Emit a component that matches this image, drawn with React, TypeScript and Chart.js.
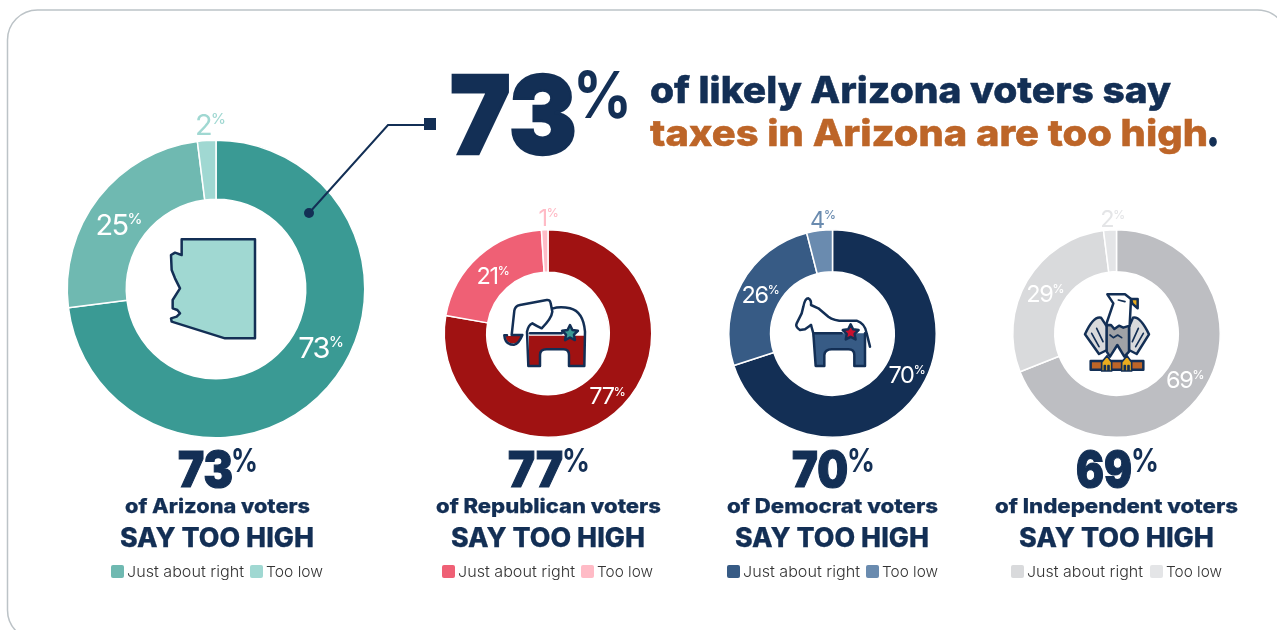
import React, { useEffect, useRef } from "react";
import { Chart, registerables } from "chart.js";

Chart.register(...registerables);

// ---------- data ----------
const categories = ["Too high", "Just about right", "Too low"];
const legendLabels = ["Just about right", "Too low"];
const groups = ["Arizona", "Republican", "Democrat", "Independent"];
const arizonaValues = [73, 25, 2];
const republicanValues = [77, 21, 1];
const democratValues = [70, 26, 4];
const independentValues = [69, 29, 2];
const arizonaColors = ["#3A9A94", "#6FB9B1", "#A0D8D2"];
const republicanColors = ["#A01212", "#EF6075", "#FFBBC6"];
const democratColors = ["#132F55", "#375B85", "#6A8BAF"];
const independentColors = ["#BDBEC2", "#D9DADC", "#E4E5E7"];

const NAVY = "#132F55";
const ORANGE = "#BD6528";
const FONT = "Inter, 'Noto Sans', sans-serif";

// ---------- layout ----------
type Panel = {
  values: number[]; colors: string[]; cx: number; cy: number; r: number; inner: number;
  digit: number; pct: number; labelPos: number[][]; labelColors: string[];
  big: number[]; bigPct: number[]; voters: number[]; say: number[]; legend: number[];
  name: string;
};
const panels: Panel[] = [
  { name: groups[0], values: arizonaValues, colors: arizonaColors, cx: 216, cy: 289, r: 148, inner: 90.5, digit: 29, pct: 15,
    labelPos: [[105, 58], [-97, -65], [-5.5, -165]], labelColors: ["#fff", "#fff", arizonaColors[2]],
    big: [178, 55], bigPct: [231, 27], voters: [125, 185], say: [120, 194], legend: [111, 127, 117, 250, 266, 57] },
  { name: groups[1], values: republicanValues, colors: republicanColors, cx: 548, cy: 333.5, r: 103, inner: 62, digit: 23.5, pct: 12,
    labelPos: [[59.5, 62], [-55, -58.5], [0.5, -116.5]], labelColors: ["#fff", "#fff", republicanColors[2]],
    big: [508, 55], bigPct: [562, 28], voters: [436, 225], say: [451, 194], legend: [442, 458, 117, 581, 597, 56] },
  { name: groups[2], values: democratValues, colors: democratColors, cx: 832.5, cy: 333.5, r: 103, inner: 62.5, digit: 23.5, pct: 12,
    labelPos: [[74.5, 40.5], [-72, -39.5], [-9.5, -114.5]], labelColors: ["#fff", "#fff", democratColors[2]],
    big: [792, 56], bigPct: [847, 28], voters: [727, 211], say: [735, 194], legend: [727, 743, 117, 866, 882, 56] },
  { name: groups[3], values: independentValues, colors: independentColors, cx: 1116.5, cy: 333.5, r: 103, inner: 62.5, digit: 23.5, pct: 12,
    labelPos: [[68.8, 45.5], [-71.2, -40.5], [-3.7, -115]], labelColors: ["#fff", "#fff", independentColors[2]],
    big: [1076, 56], bigPct: [1131, 28], voters: [995, 243], say: [1019, 195], legend: [1011, 1027, 116, 1150, 1166, 56] },
];

const pctLabels = {
  id: "pctLabels",
  afterDatasetsDraw(chart: any, _a: any, opts: any) {
    const { ctx } = chart;
    const first = chart.getDatasetMeta(0).data[0];
    const values = chart.data.datasets[0].data as number[];
    const track = `-${(opts.digit * 0.055).toFixed(2)}px`;
    ctx.save();
    ctx.textBaseline = "alphabetic";
    ctx.textAlign = "left";
    values.forEach((v, i) => {
      const [dx, dy] = opts.pos[i];
      const d = String(v);
      ctx.fillStyle = opts.colors[i];
      (ctx as any).letterSpacing = track;
      ctx.font = `400 ${opts.digit}px ${FONT}`;
      const w1 = ctx.measureText(d).width;
      (ctx as any).letterSpacing = "0px";
      ctx.font = `500 ${opts.pct}px ${FONT}`;
      const w2 = ctx.measureText("%").width;
      const x = first.x + dx - (w1 + w2) / 2;
      const capH = opts.digit * 0.727;
      const base = first.y + dy + capH / 2;
      (ctx as any).letterSpacing = track;
      ctx.font = `400 ${opts.digit}px ${FONT}`;
      ctx.fillText(d, x, base);
      (ctx as any).letterSpacing = "0px";
      ctx.font = `500 ${opts.pct}px ${FONT}`;
      ctx.fillText("%", x + w1, base - capH + opts.pct * 0.727);
    });
    ctx.restore();
  },
};

function Donut({ p }: { p: Panel }) {
  const ref = useRef<HTMLCanvasElement>(null);
  const half = p.r + 42;
  const left = Math.floor(p.cx - half);
  const top = Math.floor(p.cy - half);
  const w = Math.round((p.cx - left) * 2);
  const h = Math.round((p.cy - top) * 2);
  useEffect(() => {
    const chart = new Chart(ref.current!, {
      type: "doughnut",
      data: {
        labels: categories,
        datasets: [{ data: p.values, backgroundColor: p.colors, borderColor: "#fff", borderWidth: 1.5, hoverOffset: 0 }],
      },
      options: {
        animation: false,
        responsive: false,
        radius: p.r + 0.75,
        cutout: `${((p.inner - 0.75) / (p.r + 0.75)) * 100}%`,
        plugins: {
          legend: { display: false },
          tooltip: { enabled: false },
          pctLabels: { pos: p.labelPos, colors: p.labelColors, digit: p.digit, pct: p.pct },
        },
      } as any,
      plugins: [pctLabels as any],
    });
    return () => chart.destroy();
  }, []);
  return <canvas ref={ref} width={w} height={h} style={{ position: "absolute", left, top, width: w, height: h, display: "block" }} />;
}

function T({ x, y, len, size, weight, fill, bold = 0, children }: any) {
  return (
    <text
      x={x}
      y={y}
      textLength={len}
      lengthAdjust="spacingAndGlyphs"
      fontSize={size}
      fontWeight={weight}
      fill={fill}
      fontFamily={FONT}
      stroke={bold ? fill : "none"}
      strokeWidth={bold}
      strokeLinejoin="miter"
    >
      {children}
    </text>
  );
}

function star(cx: number, cy: number, R: number) {
  const pts: string[] = [];
  for (let i = 0; i < 10; i++) {
    const r = i % 2 ? R * 0.5 : R;
    const a = -Math.PI / 2 + (i * Math.PI) / 5;
    pts.push(`${cx + r * Math.cos(a)},${cy + r * Math.sin(a)}`);
  }
  return pts.join(" ");
}

const icon = { stroke: NAVY, strokeWidth: 7.5, strokeLinejoin: "round" as const, strokeLinecap: "round" as const };

function ArizonaIcon() {
  return (
    <g transform="translate(60,100) scale(0.33333)">
      <path
        {...icon}
        fill="#A0D8D2"
        d="M365 418 L585 418 L585 715 L495 715 L335 665 L333 655 L350 650 L360 640 L352 630 L338 625 L338 600 L360 565 L345 535 L335 510 L333 465 L345 458 L365 465 Z"
      />
    </g>
  );
}

function ElephantIcon() {
  return (
    <g transform="translate(495,290) scale(0.33333)">
      <path fill="#A01212" d="M32 138 L82 138 L68 156 Q48 168 34 150 Z" />
      <path fill="#A01212" d="M102 137 L268 137 L268 228 L222 228 L222 195 Q222 178 205 178 L155 178 Q135 178 135 195 L135 228 L102 228 Z" />
      <path {...icon} fill="none" d="M28 136 L36 136 M28 136 Q30 165 58 164 Q72 160 82 135 L50 135 L58 62 Q60 48 75 45 L155 30 Q165 28 167 40 L172 65 Q170 85 140 115 Q125 108 112 100 Q100 105 96 125 L100 228 L135 228 L135 195 Q135 178 155 178 L205 178 Q222 178 222 195 L222 228 L268 228 L270 125 Q265 65 225 55 Q195 48 172 56" />
      <path {...icon} fill="none" d="M105 130 L200 130" />
      <polygon {...icon} fill="#3A9A94" points={star(225, 130, 25)} />
    </g>
  );
}

function DonkeyIcon() {
  return (
    <g transform="translate(785,290) scale(0.33333)">
      <path fill="#375B85" d="M82 130 L240 130 L240 228 L208 228 L208 195 Q208 178 190 178 L140 178 Q120 178 118 195 L118 228 L92 228 L85 150 Z" />
      <path {...icon} fill="none" d="M78 105 L60 118 L45 120 Q30 110 35 100 L50 70 L55 50 Q60 25 70 25 Q80 30 78 45 L100 55 L130 80 Q150 95 190 92 L215 92 Q240 100 245 130 L255 170" />
      <path {...icon} fill="none" d="M78 105 L85 130 L92 228 L118 228 L118 195 Q120 178 140 178 L190 178 Q208 178 208 195 L208 228 L240 228 L240 130 M85 130 L170 130" />
      <polygon {...icon} fill="#C8102E" points={star(197, 128, 25)} />
    </g>
  );
}

function EagleIcon() {
  return (
    <g transform="translate(1075,285) scale(0.33333)">
      <path {...icon} fill="#D9DADC" d="M30 148 Q55 92 78 98 L96 125 L96 195 L72 207 Z" />
      <path {...icon} fill="#D9DADC" d="M222 148 Q195 92 174 98 L162 125 L162 195 L185 207 Z" />
      <path {...icon} fill="none" strokeWidth={5} d="M50 145 L72 185 M65 130 L84 170 M205 145 L182 185 M190 130 L172 170" />
      <path {...icon} fill="#A0A2A6" d="M95 120 L162 120 L162 200 L148 215 L127 180 L105 215 L95 200 Z" />
      <path {...icon} fill="#fff" d="M97 28 L150 28 L168 42 L164 122 L145 128 L132 122 L118 132 L108 120 L93 120 L115 55 Z" />
      <path {...icon} fill="none" strokeWidth={5} d="M105 150 L115 158 L128 150 L140 158 M130 45 L150 50" />
      <path {...icon} fill="#EAAC1E" d="M168 42 L188 42 L188 70 L172 56 Z" />
      <rect {...icon} x={47} y={228} width={158} height={26} fill={ORANGE} />
      <path {...icon} strokeWidth={5} fill="#EAAC1E" d="M96 212 L110 232 L110 258 L102 258 L102 242 L99 242 L99 258 L91 258 L91 242 L88 242 L88 258 L80 258 L80 232 Z" />
      <path {...icon} strokeWidth={5} fill="#EAAC1E" d="M156 212 L170 232 L170 258 L162 258 L162 242 L159 242 L159 258 L151 258 L151 242 L148 242 L148 258 L140 258 L140 232 Z" />
    </g>
  );
}

export default function App() {
  return (
    <div style={{ position: "fixed", inset: 0, overflow: "hidden", background: "#fff" }}>
      <svg width={1277} height={630} style={{ position: "absolute", left: 0, top: 0 }}>
        <rect x={7.5} y={10} width={1280} height={630} rx={30} ry={30} fill="#fff" stroke="#BCC3C7" strokeWidth={1.5} />
      </svg>
      {panels.map((p) => (
        <Donut key={p.name} p={p} />
      ))}
      <svg width={1277} height={630} style={{ position: "absolute", left: 0, top: 0, pointerEvents: "none" }}>
        <polyline points="309,213 388,125 430,125" fill="none" stroke={NAVY} strokeWidth={2} />
        <circle cx={309} cy={213} r={5} fill={NAVY} />
        <rect x={424} y={118} width={12} height={12} fill={NAVY} />
        <ArizonaIcon />
        <ElephantIcon />
        <DonkeyIcon />
        <EagleIcon />

        <T x={450} y={154} len={127} size={109} weight={900} fill={NAVY} bold={2.5}>73</T>
        <T x={573} y={118} len={59} size={64} weight={700} fill={NAVY}>%</T>
        <T x={650} y={103} len={521} size={37} weight={800} fill={NAVY} bold={0.5}>of likely Arizona voters say</T>
        <T x={650} y={146} len={558} size={37} weight={800} fill={ORANGE} bold={0.5}>taxes in Arizona are too high</T>
        <T x={1207} y={146} len={12} size={42} weight={900} fill={NAVY} bold={1.5}>.</T>

        {panels.map((p) => (
          <g key={p.name}>
            <T x={p.big[0]} y={487} len={p.big[1]} size={50} weight={900} fill={NAVY} bold={1.2}>{p.values[0]}</T>
            <T x={p.bigPct[0]} y={472} len={p.bigPct[1]} size={32} weight={700} fill={NAVY}>%</T>
            <T x={p.voters[0]} y={513} len={p.voters[1]} size={20} weight={800} fill={NAVY} bold={0.25}>{`of ${p.name} voters`}</T>
            <T x={p.say[0]} y={547} len={p.say[1]} size={26.5} weight={800} fill={NAVY} bold={0.25}>SAY TOO HIGH</T>
            <rect x={p.legend[0]} y={565} width={13} height={13} rx={2} fill={p.colors[1]} />
            <T x={p.legend[1]} y={577} len={p.legend[2]} size={15} weight={300} fill="#333">{legendLabels[0]}</T>
            <rect x={p.legend[3]} y={565} width={13} height={13} rx={2} fill={p.colors[2]} />
            <T x={p.legend[4]} y={577} len={p.legend[5]} size={15} weight={300} fill="#333">{legendLabels[1]}</T>
          </g>
        ))}
      </svg>
    </div>
  );
}
